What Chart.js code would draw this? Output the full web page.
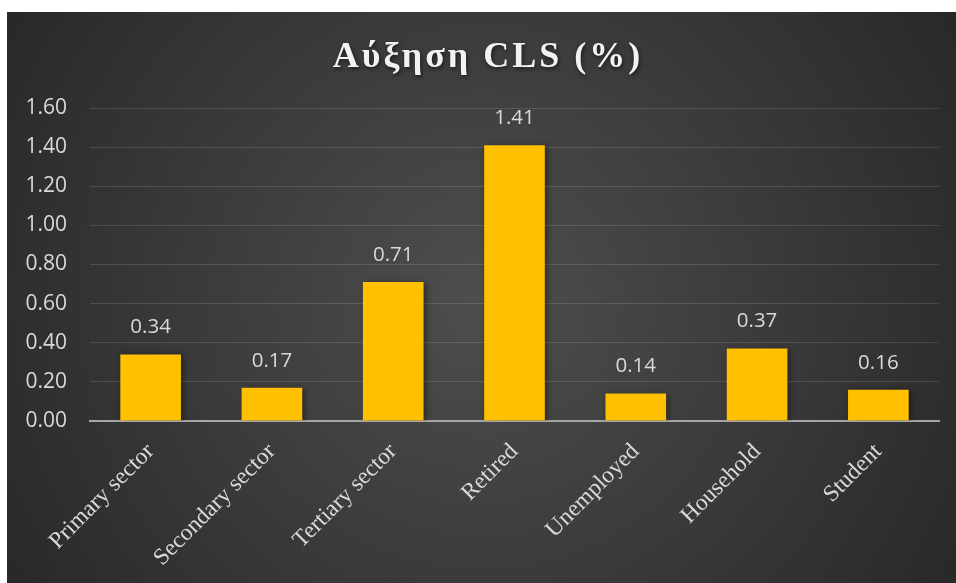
<!DOCTYPE html>
<html>
<head>
<meta charset="utf-8">
<script src="https://cdn.jsdelivr.net/npm/chart.js@4.4.1/dist/chart.umd.min.js"></script>
<style>
  html, body { margin: 0; padding: 0; background: #ffffff; width: 956px; height: 583px; overflow: hidden; }
  #wrap { position: absolute; left: 7px; top: 12px; width: 949px; height: 571px; }
</style>
</head>
<body>
<div id="wrap"><canvas id="c" width="949" height="571"></canvas></div>
<script>
const titleText = 'Αύξηση CLS (%)';
const categories = ['Primary sector', 'Secondary sector', 'Tertiary sector', 'Retired', 'Unemployed', 'Household', 'Student'];
const values = [0.34, 0.17, 0.71, 1.41, 0.14, 0.37, 0.16];
const yTicks = [0, 0.2, 0.4, 0.6, 0.8, 1.0, 1.2, 1.4, 1.6];

const bgPlugin = {
  id: 'bg',
  beforeDraw(chart) {
    const { ctx, width, height } = chart;
    ctx.save();
    const g = ctx.createRadialGradient(width * 0.5, height * 0.5, 0, width * 0.5, height * 0.5, width * 0.62);
    g.addColorStop(0, '#4e4e4e');
    g.addColorStop(1, '#262626');
    ctx.fillStyle = g;
    ctx.fillRect(0, 0, width, height);
    ctx.restore();
  }
};

const titlePlugin = {
  id: 'customTitle',
  afterDraw(chart) {
    const ctx = chart.ctx;
    ctx.save();
    ctx.font = 'bold 36px "Liberation Serif", "Times New Roman", serif';
    try { ctx.letterSpacing = '3px'; } catch (e) {}
    ctx.fillStyle = '#f2f2f2';
    ctx.textAlign = 'center';
    ctx.textBaseline = 'alphabetic';
    ctx.shadowColor = 'rgba(0,0,0,0.6)';
    ctx.shadowBlur = 4;
    ctx.shadowOffsetX = 1;
    ctx.shadowOffsetY = 2;
    ctx.fillText(titleText, 481, 55);
    ctx.restore();
  }
};

const shadowPlugin = {
  id: 'barShadow',
  beforeDatasetsDraw(chart) {
    const ctx = chart.ctx;
    ctx.save();
    ctx.shadowColor = 'rgba(0,0,0,0.45)';
    ctx.shadowBlur = 6;
    ctx.shadowOffsetX = 2;
    ctx.shadowOffsetY = 1;
  },
  afterDatasetsDraw(chart) {
    chart.ctx.restore();
  }
};

const labelPlugin = {
  id: 'valueLabels',
  afterDatasetsDraw(chart) {
    const ctx = chart.ctx;
    const meta = chart.getDatasetMeta(0);
    ctx.save();
    ctx.fillStyle = '#d9d9d9';
    ctx.font = '20.5px "Open Sans", "Noto Sans", sans-serif';
    ctx.textAlign = 'center';
    ctx.textBaseline = 'middle';
    meta.data.forEach((bar, i) => {
      ctx.fillText(values[i].toFixed(2), bar.x, bar.y - 27);
    });
    ctx.restore();
  }
};

new Chart(document.getElementById('c'), {
  type: 'bar',
  data: {
    labels: categories,
    datasets: [{
      data: values,
      backgroundColor: '#FFC000',
      borderWidth: 0,
      categoryPercentage: 1.0,
      barPercentage: 0.5
    }]
  },
  options: {
    responsive: false,
    animation: false,
    layout: { padding: { left: 0, right: 17, top: 96, bottom: 0 } },
    plugins: {
      legend: { display: false },
      tooltip: { enabled: false },
      title: { display: false }
    },
    scales: {
      x: {
        grid: { display: false },
        border: { display: true, color: '#a6a6a6', width: 2 },
        ticks: {
          color: '#d9d9d9',
          font: { family: '"Liberation Serif", "Times New Roman", serif', size: 23.5 },
          minRotation: 45,
          maxRotation: 45,
          padding: 9
        },
        afterFit(scale) { scale.height = 162; }
      },
      y: {
        min: 0,
        max: 1.6,
        afterBuildTicks(scale) { scale.ticks = yTicks.map(v => ({ value: v })); },
        grid: { color: 'rgba(255,255,255,0.13)', lineWidth: 1, drawTicks: false },
        border: { display: false },
        ticks: {
          color: '#d9d9d9',
          font: { family: '"Open Sans", "Noto Sans", sans-serif', size: 21 },
          padding: 23,
          callback: v => Number(v).toFixed(2)
        },
        afterFit(scale) { scale.width = 83; }
      }
    }
  },
  plugins: [bgPlugin, shadowPlugin, labelPlugin, titlePlugin]
});
</script>
</body>
</html>
